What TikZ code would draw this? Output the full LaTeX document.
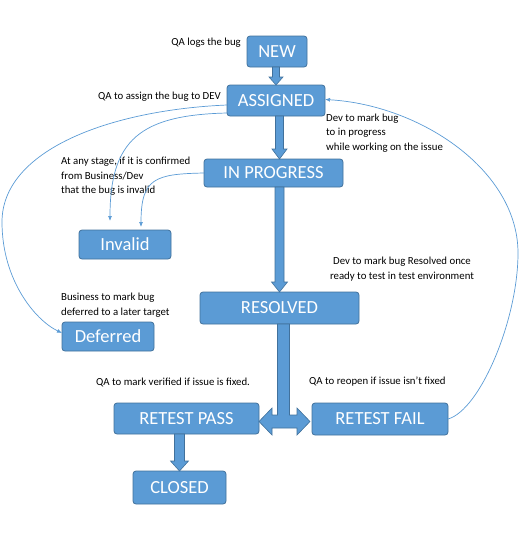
\documentclass[tikz,border=0pt]{standalone}
\usepackage{fontspec}
\setmainfont{Carlito}
\usepackage{tikz}
\usetikzlibrary{arrows.meta, calc}
\definecolor{stfill}{HTML}{5B9BD5}
\definecolor{stline}{HTML}{41719C}
% block arrow pointing down: from, to, half shaft, half head, head length
\newcommand{\blkdown}[5]{%
  \draw[blk] let \p1=(#1), \p2=(#2) in
    (\x2-#3,\y1) -- (\x2-#3,\y2+#5) -- (\x2-#4,\y2+#5) -- (\x2,\y2)
    -- (\x2+#4,\y2+#5) -- (\x2+#3,\y2+#5) -- (\x2+#3,\y1) -- cycle;}

\begin{document}
\begin{tikzpicture}[x=1pt, y=-1pt,% styles used in image code
      > = {Latex[length=5pt,width=4pt]},
state/.style = {draw=stline, fill=stfill, line width=0.8pt,
                rounded corners=3pt, text=white,
                font=\fontsize{18.5}{22}\selectfont,
                inner sep=0pt, outer sep=0pt},
  blk/.style = {draw=stline, fill=stfill, line width=0.6pt},
 flow/.style = {->, draw=stfill, line width=0.7pt},
 note/.style = {font=\fontsize{10.8}{14.5}\selectfont, inner sep=0pt}
                   ]
    \useasboundingbox (0,0) rectangle (530,539);

    % states
    \node[state, minimum width=60pt,  minimum height=31pt] (new)        at (277,51.5)    {NEW};
    \node[state, minimum width=98pt,  minimum height=31pt] (assigned)   at (276,100.5)   {ASSIGNED};
    \node[state, minimum width=139pt, minimum height=28pt] (inprog)     at (273.5,173)   {IN PROGRESS};
    \node[state, minimum width=92pt,  minimum height=29pt] (invalid)    at (125,244.5)   {Invalid};
    \node[state, minimum width=92pt,  minimum height=29pt] (deferred)   at (108,336.5)   {Deferred};
    \node[state, minimum width=159pt, minimum height=32pt] (resolved)   at (279.5,308)   {RESOLVED};
    \node[state, minimum width=145pt, minimum height=31pt] (retestpass) at (186.5,418.5) {RETEST PASS};
    \node[state, minimum width=136pt, minimum height=32pt] (retestfail) at (380,419)     {RETEST FAIL};
    \node[state, minimum width=93pt,  minimum height=33pt] (closed)     at (179.5,487.5) {CLOSED};

    % notes
    \node[note, anchor=east] (nlog)    at (241,43)  {QA logs the bug};
    \node[note, anchor=east] (nassign) at (221,97)  {QA to assign the bug to DEV};
    \node[note, anchor=west, align=left] (nprog) at (326,133)
        {Dev to mark bug\\to in progress\\while working on the issue};
    \node[note, anchor=west, align=left] (ninvalid) at (61,176.5)
        {At any stage, if it is confirmed\\from Business/Dev\\that the bug is invalid};
    \node[note, align=center] (nresolved) at (402,269)
        {Dev to mark bug Resolved once\\ready to test in test environment};
    \node[note, anchor=west, align=left] (ndefer) at (61,305)
        {Business to mark bug\\deferred to a later target};
    \node[note, anchor=west] (npass) at (96,382)  {QA to mark verified if issue is fixed.};
    \node[note, anchor=west] (nfail) at (309,382) {QA to reopen if issue isn't fixed};

    % block arrows
    \blkdown{new.south}{assigned.north}{3.5pt}{7pt}{8pt}
    \blkdown{assigned.south}{[xshift=6pt]inprog.north}{4pt}{7.5pt}{10pt}
    \blkdown{[xshift=7pt]inprog.south}{resolved.north}{4.5pt}{8pt}{10pt}
    \blkdown{retestpass.south}{closed.north}{5pt}{9pt}{10pt}
    \draw[blk] let \p1=([xshift=4pt]resolved.south),
                   \p2=([yshift=-3pt]retestpass.east),
                   \p3=([xshift=-2pt]retestfail.west) in
        (\x1-6pt,\y1) -- (\x1-6pt,\y2+6.5pt) -- (\x2+13pt,\y2+6.5pt)
        -- (\x2+13pt,\y2+13.5pt) -- (\x2,\y2) -- (\x2+13pt,\y2-13.5pt)
        -- (\x2+13pt,\y2-6.5pt) -- (\x3-13pt,\y2-6.5pt) -- (\x3-13pt,\y2-13.5pt)
        -- (\x3,\y2) -- (\x3-13pt,\y2+13.5pt) -- (\x3-13pt,\y2+6.5pt)
        -- (\x1+6pt,\y2+6.5pt) -- (\x1+6pt,\y1) -- cycle;

    % thin arrows
    \coordinate (inv1) at (110,221);
    \coordinate (inv2) at (141,227);
    \draw[flow] ([yshift=-4.5pt]assigned.west) .. controls (110,110) and (2,150) .. (2,222)
        .. controls (2,280) and (35,320) .. ([yshift=3.5pt]deferred.west);
    \draw[flow] ([yshift=-12.5pt]assigned.west) .. controls (140,115) and (110,140) .. (inv1);
    \draw[flow] (inprog.west) .. controls (155,174) and (141,178) .. (inv2);
    \draw[flow] (retestfail.east) .. controls (480,410) and (518,320) .. (518,253)
        .. controls (518,170) and (420,105) .. ([yshift=1pt]assigned.east);
\end{tikzpicture}
\end{document}
